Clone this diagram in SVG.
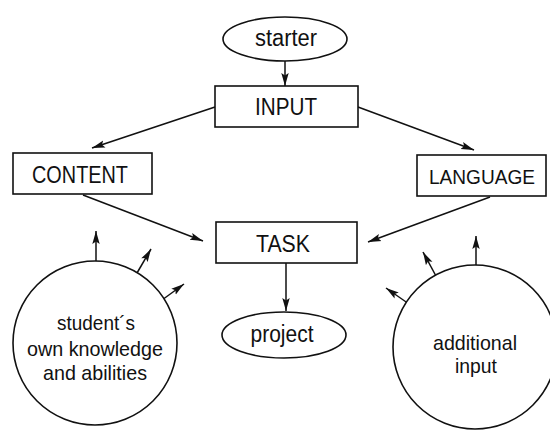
<svg xmlns="http://www.w3.org/2000/svg" width="550" height="437" viewBox="0 0 550 437">
<defs>
<marker id="ah" markerUnits="userSpaceOnUse" markerWidth="14" markerHeight="9" refX="13" refY="4.5" orient="auto">
<path d="M0,0.8 L13,4.5 L0,8.2 L2.5,4.5 z" fill="#111"/>
</marker>
<style>
.shape{fill:#fff;stroke:#111;stroke-width:1.6}
.t{font-family:"Liberation Sans",Arial,sans-serif;fill:#111;text-anchor:middle}
.cap{font-size:24px}
.low{font-size:23px}
.circ{font-size:21px}
.conn line{stroke:#111;stroke-width:1.5;marker-end:url(#ah)}
</style>
</defs>
<rect width="550" height="437" fill="#fff"/>
<g class="conn" id="connectors">
<line x1="285" y1="61" x2="285" y2="86"/>
<line x1="215" y1="107" x2="92" y2="148"/>
<line x1="358" y1="107" x2="474" y2="150"/>
<line x1="83" y1="195" x2="203" y2="241"/>
<line x1="490" y1="197" x2="368" y2="242"/>
<line x1="286" y1="263" x2="286" y2="311"/>
<line x1="96" y1="261" x2="96" y2="231"/>
<line x1="137" y1="273" x2="151" y2="249"/>
<line x1="162" y1="300" x2="184" y2="284"/>
<line x1="476" y1="265" x2="476" y2="236"/>
<line x1="436" y1="276" x2="423" y2="252"/>
<line x1="409" y1="304" x2="386" y2="288"/>
</g>
<g id="starter">
<ellipse class="shape" cx="285" cy="39" rx="62" ry="22"/>
<text class="t low" x="286" y="46" textLength="62" lengthAdjust="spacingAndGlyphs">starter</text>
</g>
<g id="input">
<rect class="shape" x="215" y="86" width="143" height="41"/>
<text class="t cap" x="286" y="115" textLength="62" lengthAdjust="spacingAndGlyphs">INPUT</text>
</g>
<g id="content">
<rect class="shape" x="13" y="153" width="139" height="41"/>
<text class="t cap" x="80" y="183" textLength="96" lengthAdjust="spacingAndGlyphs">CONTENT</text>
</g>
<g id="language">
<rect class="shape" x="417" y="155" width="129" height="41"/>
<text class="t" style="font-size:21px" x="482" y="184" textLength="106" lengthAdjust="spacingAndGlyphs">LANGUAGE</text>
</g>
<g id="task">
<rect class="shape" x="216" y="222" width="141" height="41"/>
<text class="t cap" x="283" y="252" textLength="54" lengthAdjust="spacingAndGlyphs">TASK</text>
</g>
<g id="project">
<ellipse class="shape" cx="284" cy="335" rx="62" ry="23"/>
<text class="t low" x="282" y="342" textLength="63" lengthAdjust="spacingAndGlyphs">project</text>
</g>
<g id="student">
<circle class="shape" cx="95" cy="343" r="82"/>
<text class="t circ" x="96" y="330" textLength="78" lengthAdjust="spacingAndGlyphs">student´s</text>
<text class="t circ" x="95" y="356" textLength="136" lengthAdjust="spacingAndGlyphs">own knowledge</text>
<text class="t circ" x="95" y="380" textLength="104" lengthAdjust="spacingAndGlyphs">and abilities</text>
</g>
<g id="additional">
<circle class="shape" cx="475" cy="347" r="82"/>
<text class="t circ" x="475" y="350" textLength="84" lengthAdjust="spacingAndGlyphs">additional</text>
<text class="t circ" x="476" y="373" textLength="42" lengthAdjust="spacingAndGlyphs">input</text>
</g>
</svg>
